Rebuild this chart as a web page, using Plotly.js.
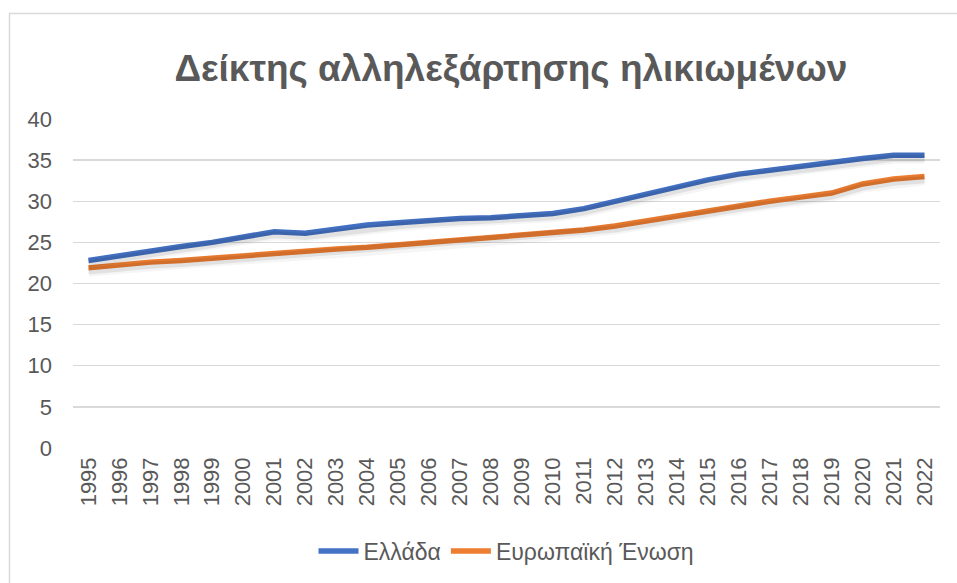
<!DOCTYPE html>
<html>
<head>
<meta charset="utf-8">
<script src="https://cdn.plot.ly/plotly-3.0.1.min.js"></script>
<style>html,body{margin:0;padding:0;background:#fff;}#chart{width:957px;height:583px;}</style>
</head>
<body>
<div id="chart"></div>
<script>
const years = ["1995","1996","1997","1998","1999","2000","2001","2002","2003","2004","2005","2006","2007","2008","2009","2010","2011","2012","2013","2014","2015","2016","2017","2018","2019","2020","2021","2022"];
const greece = [22.8,23.4,24.0,24.5,25.0,25.6,26.3,26.1,26.6,27.1,27.4,27.7,27.9,28.0,28.2,28.5,29.1,30.0,30.8,31.8,32.6,33.3,33.8,34.3,34.8,35.2,35.6,35.6];
const eu = [21.9,22.3,22.6,22.8,23.1,23.3,23.6,24.0,24.2,24.4,24.7,25.1,25.3,25.6,25.9,26.2,26.5,27.0,27.6,28.3,28.9,29.5,30.0,30.5,31.0,32.1,32.7,33.0];
const yTicks = [0,5,10,15,20,25,30,35,40];
const titleText = "Δείκτης αλληλεξάρτησης ηλικιωμένων";
const seriesNames = ["Ελλάδα","Ευρωπαϊκή Ένωση"];

const font = "Liberation Sans, Arial, sans-serif";
const shadow = (y, w, a) => ({x: years, y: y, type: 'scatter', mode: 'lines', yaxis: 'y2',
  line: {color: 'rgba(0,0,0,' + a + ')', width: w, shape: 'linear'}, showlegend: false, hoverinfo: 'skip'});

const traces = [
  shadow(greece, 11, 0.04), shadow(greece, 7, 0.08),
  shadow(eu, 11, 0.04), shadow(eu, 7, 0.08),
  {x: years, y: greece, name: seriesNames[0], type: 'scatter', mode: 'lines',
   line: {color: '#4472C4', width: 5.5}},
  {x: years, y: eu, name: seriesNames[1], type: 'scatter', mode: 'lines',
   line: {color: '#ED7D31', width: 5.5}}
];

const layout = {
  width: 957, height: 583,
  margin: {l: 73, r: 17, t: 119, b: 135},
  paper_bgcolor: '#fff', plot_bgcolor: '#fff',
  font: {family: font, color: '#595959', size: 22},
  title: {text: '<b>' + titleText + '</b>', font: {family: font, size: 37, color: '#595959'},
          x: 0.505, xref: 'paper', xanchor: 'center', y: 1 - 68/583, yref: 'container', yanchor: 'middle'},
  xaxis: {type: 'category', range: [-0.5, 27.5], tickangle: -90, showgrid: false, zeroline: false, showline: false,
          ticks: '', tickfont: {family: font, size: 22, color: '#595959'}, ticklabelstandoff: 4, fixedrange: true},
  yaxis: {range: [0, 40], tickvals: yTicks, showgrid: true, gridcolor: '#d9d9d9', gridwidth: 1.3,
          zeroline: false, showline: false, ticks: '', ticklabelstandoff: 20,
          tickfont: {family: font, size: 22, color: '#595959'}, fixedrange: true},
  yaxis2: {range: [0.38, 40.38], overlaying: 'y', visible: false, fixedrange: true},
  showlegend: true,
  legend: {orientation: 'h', x: 0.5, xanchor: 'center', xref: 'paper', y: 1 - 551/583, yref: 'container', yanchor: 'middle',
           font: {family: font, size: 23, color: '#595959'}, itemwidth: 40, tracegroupgap: 0},
  shapes: [{type: 'rect', xref: 'paper', yref: 'paper', x0: (9.5-73)/867, x1: 1.1,
            y0: -0.6, y1: (448-13.5)/329, line: {color: '#d9d9d9', width: 1.5}, layer: 'below'}]
};

Plotly.newPlot('chart', traces, layout, {displayModeBar: false, staticPlot: true});
</script>
</body>
</html>
